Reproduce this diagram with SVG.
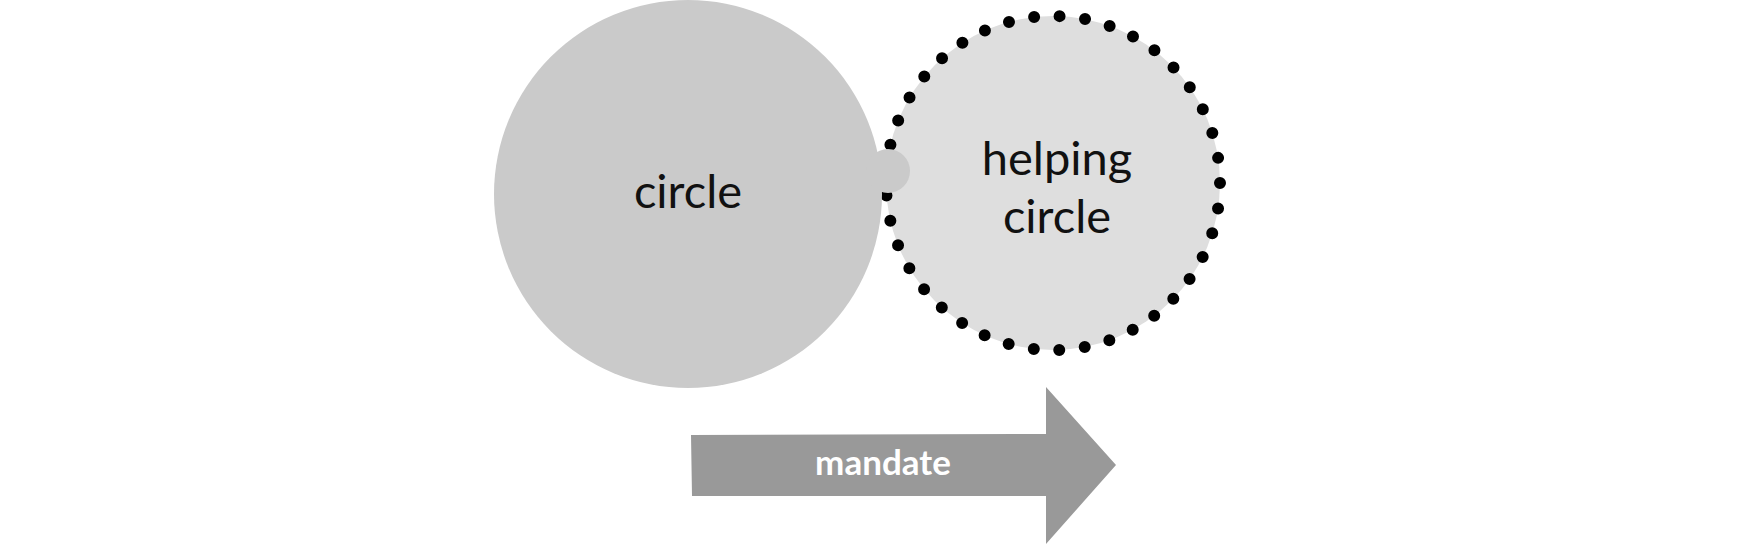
<svg xmlns="http://www.w3.org/2000/svg" width="1748" height="544" viewBox="0 0 1748 544">
<style>
text{font-family:Lato,"Open Sans",sans-serif;text-anchor:middle}
.lbl{font-size:47px;fill:#111}
.m{font-size:35px;fill:#fff;font-weight:bold}
</style>
<rect width="1748" height="544" fill="#fff"/>
<g id="helping">
<circle cx="1053" cy="183" r="167" fill="#dedede" stroke="#000" stroke-width="12" stroke-linecap="round" stroke-dasharray="0 25.59"/>
<text class="lbl" x="1057" y="175">helping</text>
<text class="lbl" x="1057" y="233">circle</text>
</g>
<g id="circle">
<circle cx="688" cy="194" r="194" fill="#cacaca"/>
<circle cx="888" cy="171" r="22" fill="#cacaca"/>
<text class="lbl" x="688" y="208">circle</text>
</g>
<g id="connectors">
<g id="mandate">
<polygon points="691,435 1046,434 1046,387 1116,465 1046,544 1046,496 692,496" fill="#999"/>
<text class="m" x="883" y="475">mandate</text>
</g>
</g>
</svg>
